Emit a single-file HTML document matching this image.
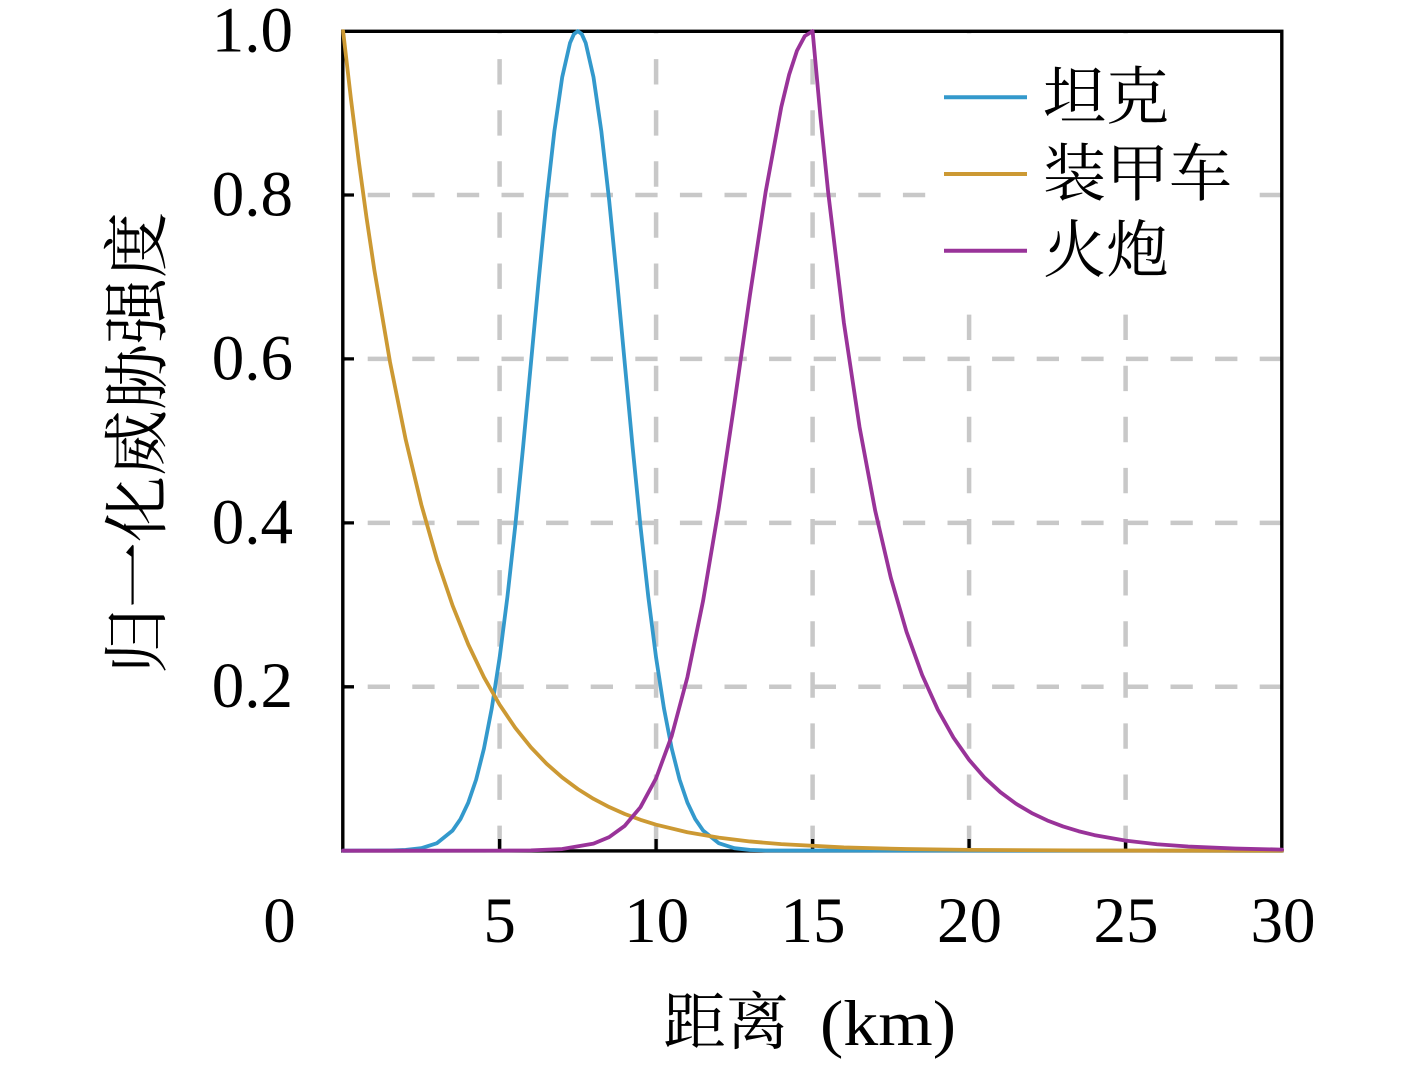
<!DOCTYPE html>
<html>
<head>
<meta charset="utf-8">
<style>
  html, body { margin: 0; padding: 0; background: #ffffff; }
  svg { display: block; }
  .tick { font-family: "Liberation Serif", "DejaVu Serif", serif; font-size: 65px; fill: #000; }
  .cjk { font-family: "Liberation Serif", "Noto Serif CJK SC", "Noto Sans CJK SC", serif; fill: #000; }
</style>
</head>
<body>
<svg width="1417" height="1067" viewBox="0 0 1417 1067" xmlns="http://www.w3.org/2000/svg">
  <rect x="0" y="0" width="1417" height="1067" fill="#ffffff"/>

  <!-- vertical gridlines (drawn bottom -> top) -->
  <g stroke="#c8c8c8" stroke-width="4.5" stroke-dasharray="25.4 25.7" fill="none">
    <path d="M499.6,851 L499.6,31"/>
    <path d="M656.1,851 L656.1,31"/>
    <path d="M812.6,851 L812.6,31"/>
    <path d="M969.1,851 L969.1,31"/>
    <path d="M1125.6,851 L1125.6,31"/>
  </g>
  <!-- horizontal gridlines (drawn right -> left) -->
  <g stroke="#c8c8c8" stroke-width="4.5" stroke-dasharray="22.3 22.3" fill="none">
    <path d="M1282,195 L343,195"/>
    <path d="M1282,358.9 L343,358.9"/>
    <path d="M1282,522.9 L343,522.9"/>
    <path d="M1282,686.8 L343,686.8"/>
  </g>

  <!-- ticks -->
  <g stroke="#000" stroke-width="3.3" fill="none">
    <path d="M343,195 h11 M343,358.9 h11 M343,522.9 h11 M343,686.8 h11"/>
    <path d="M499.6,851 v-12 M656.1,851 v-12 M812.6,851 v-12 M969.1,851 v-12 M1125.6,851 v-12"/>
  </g>

  <!-- spines -->
  <rect x="342.8" y="31.3" width="939" height="819.6" fill="none" stroke="#000" stroke-width="3.4"/>

  <!-- curves -->
  <g fill="none" stroke-width="3.8" stroke-linejoin="round" stroke-linecap="round">
    <!-- tank (blue) -->
    <path stroke="#3399cc" d="M343.1,850.7 L390,850.5 L405.7,849.95 L421.35,848.18 L437,843.14 L452.65,830.48 L460.48,819.05 L468.3,802.55 L476.13,779.56 L483.95,748.55 L491.78,708.25 L499.6,657.72 L507.43,596.68 L515.25,525.88 L523.08,447.19 L530.9,363.71 L538.73,279.75 L546.55,200.4 L554.38,131.12 L562.2,77.17 L570.03,42.87 L573.94,34.06 L577.85,31.1 L581.76,34.06 L585.68,42.87 L593.5,77.17 L601.33,131.12 L609.15,200.4 L616.98,279.75 L624.8,363.71 L632.63,447.19 L640.45,525.88 L648.28,596.68 L656.1,657.72 L663.93,708.25 L671.75,748.55 L679.58,779.56 L687.4,802.55 L695.23,819.05 L703.05,830.48 L718.7,843.14 L734.35,848.18 L750,849.95 L765.65,850.5 L1282.1,850.7"/>
    <!-- armored vehicle (gold) -->
    <path stroke="#cc9933" d="M343.1,31.1 L350.93,98.82 L358.75,160.96 L366.58,217.96 L374.4,270.24 L390.05,362.21 L405.7,439.6 L421.35,504.75 L437,559.55 L452.65,605.69 L468.3,644.5 L483.95,677.17 L499.6,704.67 L515.25,727.81 L530.9,747.27 L546.55,763.67 L562.2,777.45 L577.85,789.07 L593.5,798.83 L609.15,807.05 L624.8,813.97 L640.45,819.78 L656.1,824.68 L687.4,832.28 L718.7,837.65 L750,841.45 L781.3,844.15 L843.9,847.42 L906.5,849.05 L969.1,849.87 L1094.3,850.5 L1282.1,850.68"/>
    <!-- artillery (purple) -->
    <path stroke="#993399" d="M343.1,850.7 L499.6,850.65 L530.9,850.38 L562.2,849.05 L593.5,843.64 L609.15,837.11 L624.8,825.78 L640.45,807.16 L656.1,778.24 L671.75,735.82 L687.4,677.18 L703.05,601.02 L718.7,508.46 L734.35,403.78 L750,294.75 L765.65,191.85 L781.3,106.89 L789.13,74.63 L796.95,50.74 L804.78,36.06 L812.6,31.1 L820.43,116.47 L828.25,192.96 L843.9,322.85 L859.55,427.09 L875.2,510.74 L890.85,577.88 L906.5,631.76 L922.15,674.99 L937.8,709.69 L953.45,737.54 L969.1,759.89 L984.75,777.82 L1000.4,792.21 L1016.05,803.76 L1031.7,813.03 L1047.35,820.47 L1063,826.44 L1078.65,831.23 L1094.3,835.08 L1125.6,840.64 L1156.9,844.22 L1188.2,846.53 L1235.15,848.54 L1282.1,849.59"/>
  </g>

  <!-- legend -->
  <rect x="932" y="42" width="318" height="262" fill="#ffffff"/>
  <g stroke-width="4" fill="none">
    <path stroke="#3399cc" d="M944,97.3 L1027,97.3"/>
    <path stroke="#cc9933" d="M944,174 L1027,174"/>
    <path stroke="#993399" d="M944,250.7 L1027,250.7"/>
  </g>
  <text class="cjk" x="1043" y="118.5" font-size="63">坦克</text>
  <text class="cjk" x="1043" y="195.5" font-size="63">装甲车</text>
  <text class="cjk" x="1043" y="272" font-size="63">火炮</text>

  <!-- y tick labels -->
  <g class="tick" text-anchor="end">
    <text x="293" y="51.6">1.0</text>
    <text x="293" y="215.4">0.8</text>
    <text x="293" y="379.3">0.6</text>
    <text x="293" y="543.3">0.4</text>
    <text x="293" y="707.2">0.2</text>
  </g>

  <!-- x tick labels -->
  <g class="tick" text-anchor="middle">
    <text x="279.5" y="942">0</text>
    <text x="499.6" y="942">5</text>
    <text x="656.6" y="942">10</text>
    <text x="813" y="942">15</text>
    <text x="969.5" y="942">20</text>
    <text x="1126" y="942">25</text>
    <text x="1283" y="942">30</text>
  </g>

  <!-- x axis label -->
  <text class="cjk" x="663" y="1044" font-size="63">距离</text>
  <text class="tick" x="820" y="1045" font-size="66" textLength="136" lengthAdjust="spacingAndGlyphs">(km)</text>

  <!-- y axis label -->
  <text class="cjk" font-size="66" text-anchor="middle" transform="translate(160,443) rotate(-90)">归一化威胁强度</text>
</svg>
</body>
</html>
